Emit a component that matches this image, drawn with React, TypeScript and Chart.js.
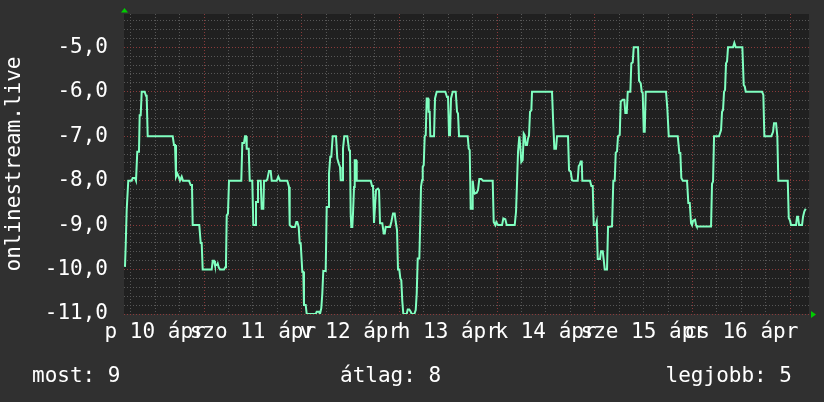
import React, { useEffect, useRef } from "react";
import { Chart, registerables } from "chart.js";

Chart.register(...registerables);

// Time in hours since 10 Apr 00:00
const sampleHours = [
  4.59, 4.77, 5.01, 5.4, 6.24, 6.48, 7.05, 7.3, 7.61, 8.03, 8.2, 8.45, 8.7, 9.43, 9.75, 9.92, 10.17,
  16.31, 16.63, 16.88, 17.12, 17.44, 17.78, 18.1, 18.52, 18.84, 20.31, 20.73, 21.05, 21.22, 22.84,
  23.19, 23.43, 23.68, 25.89, 26.14, 26.46, 26.7, 27.12, 27.36, 27.61, 27.93, 28.91, 29.23, 29.4,
  29.58, 29.89, 30.14,
  33.16, 33.41, 33.82, 34.07, 34.32, 34.49, 34.98, 35.23, 35.86, 36.11, 36.53, 36.77, 37.02, 37.26,
  37.93, 38.17, 38.57, 38.74, 39.3, 39.55, 39.97, 40.38, 40.63, 41.86, 42.25, 42.67, 44.46, 44.88,
  45.05, 45.54, 46.35, 46.67, 46.92, 47.26, 47.51, 47.75, 48.15, 48.39, 48.56, 48.98, 49.23, 51.44,
  51.68, 52.25, 52.49, 52.81, 53.06, 53.3, 53.89, 54.14, 54.46, 54.7, 55.02, 55.27, 55.61, 56.42,
  56.74, 57.09, 57.41, 57.58, 57.9, 58.14, 58.46, 59.2,
  59.62, 59.86, 60.03, 60.18, 60.43, 60.6, 60.85, 61.02, 61.34, 61.51, 64.95, 65.27, 65.51, 65.76,
  66.0, 66.25, 66.74, 66.99, 67.23, 67.8, 68.14, 68.39, 68.63, 69.69, 70.01, 70.43, 70.84, 71.09,
  71.41, 71.65, 71.97, 72.22, 72.46, 72.71, 72.96, 73.79, 74.04, 74.43, 74.77, 75.02, 75.66, 76.0,
  76.25, 76.49, 76.89, 77.13, 77.3, 77.55, 77.72, 77.97, 78.21, 78.46, 78.7, 79.02, 79.19, 79.44,
  79.59, 80.5, 80.74, 81.16, 83.27, 83.69, 83.94, 84.18, 84.43, 84.67, 85.09, 85.83, 86.15, 86.39,
  86.64,
  88.77, 89.02, 89.26, 89.51, 89.83, 90.0, 90.25, 90.49, 90.99, 91.3, 91.62, 92.11, 92.53, 94.91,
  95.16, 95.55, 95.8, 96.22, 97.2, 97.52, 98.01, 98.35, 100.32, 100.64, 100.88, 101.13, 101.45,
  101.69, 101.94, 102.28, 102.53, 102.78, 103.02, 103.34, 103.59, 103.83, 104.08, 104.4, 104.57,
  109.48, 109.73, 110.05, 110.46, 110.71, 113.41, 113.66, 114.07, 114.39, 114.71,
  115.79, 116.04, 116.29, 116.53, 116.78, 116.92, 118.82, 119.14, 119.48, 119.73, 120.22, 120.46,
  120.71, 121.27, 121.52, 121.94, 122.18, 122.43, 122.99, 123.24, 124.22, 124.54, 124.88, 125.13,
  125.45, 125.69, 126.11, 126.36, 126.85, 127.24, 127.49, 127.83, 128.08, 128.72, 128.96, 129.3,
  129.55, 130.61, 130.85, 131.27, 131.52, 131.76, 132.01, 132.25, 132.5, 137.48, 137.8, 138.15,
  140.36, 140.75, 141.0, 141.24, 141.59, 142.64, 142.96, 143.31,
  143.63, 143.87, 144.12, 144.61, 144.86, 145.03, 148.54, 148.78, 149.03, 149.28, 150.5, 150.75,
  151.0, 151.24, 151.49, 151.73, 151.98, 152.22, 152.47, 152.71, 153.94, 154.26, 154.61, 156.23,
  156.57, 156.82, 157.06, 161.07, 161.39, 161.63, 163.35, 163.77, 164.01, 164.51, 164.82, 165.07,
  167.38, 167.63, 167.95, 168.19, 169.42, 169.66, 169.91, 170.16, 170.89, 171.14, 171.46, 171.8,
];

const rankValues = [
  -9.94, -9.45, -8.66, -8.0, -8.0, -7.94, -7.94, -8.0, -7.35, -7.35, -6.53, -6.53, -6.0, -6.0, -6.09, -6.09, -7.0,
  -7.0, -7.2, -7.2, -7.91, -7.84, -7.91, -8.0, -7.91, -8.0, -8.0, -8.1, -8.1, -9.0, -9.0,
  -9.4, -9.4, -10.0, -10.0, -9.8, -9.8, -9.9, -9.9, -9.86, -9.95, -10.0, -10.0, -9.95, -9.86,
  -8.78, -8.74, -8.0,
  -8.0, -7.15, -7.15, -7.0, -7.0, -7.28, -7.28, -8.0, -8.0, -9.0, -9.0, -8.48, -8.48, -8.0,
  -8.0, -8.63, -8.63, -8.0, -8.0, -7.97, -7.78, -7.78, -8.0, -8.0, -7.91, -8.0, -8.0, -8.14,
  -9.0, -9.04, -9.04, -8.93, -8.93, -9.04, -9.41, -9.41, -10.05, -10.05, -10.8, -10.8, -11.0, -11.0,
  -10.95, -10.95, -11.0, -10.87, -10.54, -10.03, -10.03, -8.59, -8.59, -7.84, -7.46, -7.46, -7.0, -7.0,
  -7.5, -7.61, -7.69, -7.99, -7.99, -7.28, -7.0, -7.0,
  -7.31, -7.35, -8.74, -9.04, -9.04, -8.74, -8.14, -7.54, -7.54, -8.0, -8.0, -8.12, -8.12, -8.95,
  -8.95, -8.21, -8.18, -8.21, -8.96, -8.96, -9.19, -9.19, -9.04, -9.04, -8.93, -8.74, -8.74, -8.93,
  -9.11, -10.0, -10.0, -10.2, -10.24, -10.72, -11.0, -11.0, -10.9, -10.9, -10.95, -11.0, -11.0, -10.91,
  -10.54, -9.75, -9.75, -8.89, -8.14, -7.99, -7.69, -7.65, -7.0, -6.98, -6.15, -6.15, -6.45, -6.45,
  -7.0, -7.0, -6.15, -6.0, -6.0, -6.12, -6.12, -6.98, -6.98, -6.15, -6.0, -6.0, -6.45, -6.49,
  -7.0,
  -7.0, -7.28, -7.31, -8.63, -8.63, -8.0, -8.21, -8.29, -8.27, -8.21, -7.96, -7.96, -8.0, -8.0,
  -8.93, -9.0, -8.93, -9.0, -9.0, -8.85, -8.87, -9.0, -9.0, -8.7, -8.06, -7.35, -7.0,
  -7.24, -7.58, -7.54, -6.94, -6.98, -7.2, -7.2, -7.05, -6.98, -6.45, -6.42, -6.0,
  -6.0, -6.6, -7.28, -7.28, -7.0, -7.0, -7.76, -7.8, -7.99, -8.0,
  -8.0, -7.67, -7.64, -7.57, -7.57, -8.0, -8.0, -8.12, -8.12, -9.0, -9.0, -8.92,
  -9.76, -9.76, -9.59, -9.59, -9.78, -10.0, -10.0, -9.04, -9.03, -8.0, -8.0, -7.37,
  -7.34, -7.0, -6.97, -6.22, -6.18, -6.18, -6.48, -6.48, -6.0, -6.0, -5.36, -5.34,
  -5.0, -5.0, -5.75, -5.81, -6.0, -6.03, -6.9, -6.9, -6.0, -6.0, -6.37, -7.0,
  -7.0, -7.38, -7.38, -7.94, -8.0, -8.0, -8.5, -8.5,
  -8.96, -9.0, -8.9, -8.88, -9.0, -9.03, -9.03, -8.07, -8.02, -7.0, -7.0, -6.93,
  -6.86, -6.45, -6.41, -6.0, -5.96, -5.36, -5.32, -5.0, -5.0, -4.9, -5.0, -5.0,
  -5.85, -5.88, -6.0, -6.0, -6.07, -7.0, -7.0, -6.9, -6.71, -6.71, -7.0, -8.0,
  -8.0, -8.84, -8.9, -9.0, -9.0, -8.81, -8.81, -9.0, -9.0, -8.81, -8.69, -8.63,
];

const dayLabels = ["p 10 ápr", "szo 11 ápr", "v 12 ápr", "h 13 ápr", "k 14 ápr", "sze 15 ápr", "cs 16 ápr"];
const xMinHours = 4.35;
const xMaxHours = 172.6;
const yMin = -11;
const yMax = -4.25;
const seriesName = "onlinestream.live";
const legendItems = ["most: 9", "átlag: 8", "legjobb: 5"];

const FONT = '"DejaVu Sans Mono", monospace';
const RED = "#8a3a3a";
const GRAY = "#575757";

const decoPlugin = {
  id: "deco",
  beforeDraw(chart: any) {
    const { ctx, chartArea: a } = chart;
    ctx.save();
    ctx.fillStyle = "#303030";
    ctx.fillRect(0, 0, chart.width, chart.height);
    ctx.fillStyle = "#202020";
    ctx.fillRect(a.left, a.top, a.right - a.left, a.bottom - a.top);
    ctx.restore();
  },
  afterDraw(chart: any) {
    const { ctx, chartArea: a } = chart;
    ctx.save();
    ctx.fillStyle = "#00cc00";
    ctx.beginPath();
    ctx.moveTo(a.left - 3, a.top - 1.5);
    ctx.lineTo(a.left + 4, a.top - 1.5);
    ctx.lineTo(a.left + 0.5, a.top - 6);
    ctx.closePath();
    ctx.fill();
    ctx.beginPath();
    ctx.moveTo(a.right + 2, a.bottom - 3);
    ctx.lineTo(a.right + 2, a.bottom + 4);
    ctx.lineTo(a.right + 7, a.bottom + 0.5);
    ctx.closePath();
    ctx.fill();
    ctx.fillStyle = "#ffffff";
    ctx.font = `21px ${FONT}`;
    ctx.textBaseline = "alphabetic";
    ctx.textAlign = "left";
    ctx.fillText(legendItems[0], 32, 382);
    ctx.fillText(legendItems[1], 340, 382);
    ctx.textAlign = "right";
    ctx.fillText(legendItems[2], 792, 382);
    ctx.restore();
  },
};

export default function App() {
  const ref = useRef<HTMLCanvasElement | null>(null);

  useEffect(() => {
    if (!ref.current) return;
    const data = sampleHours.map((h, i) => ({ x: h, y: rankValues[i] }));
    const chart = new Chart(ref.current, {
      type: "line",
      data: {
        datasets: [
          {
            label: seriesName,
            data,
            borderColor: "#80ffc0",
            borderWidth: 2,
            pointRadius: 0,
            tension: 0,
            fill: false,
          },
        ],
      },
      options: {
        animation: false,
        responsive: false,
        devicePixelRatio: 1,
        layout: { padding: { top: 14, right: 15, bottom: 48, left: 0 } },
        plugins: { legend: { display: false }, tooltip: { enabled: false } },
        scales: {
          x: {
            type: "linear",
            min: xMinHours,
            max: xMaxHours,
            afterBuildTicks: (scale: any) => {
              const t = [];
              for (let h = 6; h <= 168; h += 6) t.push({ value: h });
              scale.ticks = t;
            },
            afterFit: (scale: any) => {
              scale.height = 40;
              scale.paddingLeft = 0;
              scale.paddingRight = 0;
            },
            grid: {
              drawTicks: false,
              lineWidth: 1,
              color: (ctx: any) => (ctx.tick && ctx.tick.value % 24 === 0 ? RED : GRAY),
            },
            border: { display: false, dash: [1, 2] },
            ticks: {
              autoSkip: false,
              maxRotation: 0,
              minRotation: 0,
              padding: 6,
              color: "#ffffff",
              font: { family: FONT, size: 21 },
              callback: (v: any) => {
                const h = Number(v);
                if (h % 24 === 12) return dayLabels[(h - 12) / 24] ?? "";
                return "";
              },
            },
          },
          y: {
            type: "linear",
            min: yMin,
            max: yMax,
            afterBuildTicks: (scale: any) => {
              const t = [];
              for (let i = 0; i <= 33; i++) {
                const v = Math.round((yMin + i * 0.2) * 10) / 10;
                if (v <= yMax) t.push({ value: v });
              }
              scale.ticks = t;
            },
            afterFit: (scale: any) => {
              scale.width = 124;
              scale.paddingTop = 0;
              scale.paddingBottom = 0;
            },
            grid: {
              drawTicks: false,
              lineWidth: 1,
              color: (ctx: any) => {
                const v = ctx.tick ? ctx.tick.value : 0;
                return Math.abs(v - Math.round(v)) < 1e-6 ? RED : GRAY;
              },
            },
            border: { display: false, dash: [1, 2] },
            title: {
              display: true,
              text: seriesName,
              color: "#ffffff",
              font: { family: FONT, size: 21 },
              padding: { top: 2, bottom: 0 },
            },
            ticks: {
              autoSkip: false,
              padding: 16,
              color: "#ffffff",
              font: { family: FONT, size: 21 },
              callback: (v: any) => {
                const n = Number(v);
                if (Math.abs(n - Math.round(n)) < 1e-6) return n.toFixed(1).replace(".", ",");
                return "";
              },
            },
          },
        },
      },
      plugins: [decoPlugin],
    });
    return () => chart.destroy();
  }, []);

  return (
    <div style={{ position: "fixed", left: 0, top: 0, width: 824, height: 402, background: "#303030" }}>
      <canvas ref={ref} width={824} height={402} style={{ display: "block", width: 824, height: 402 }} />
    </div>
  );
}
